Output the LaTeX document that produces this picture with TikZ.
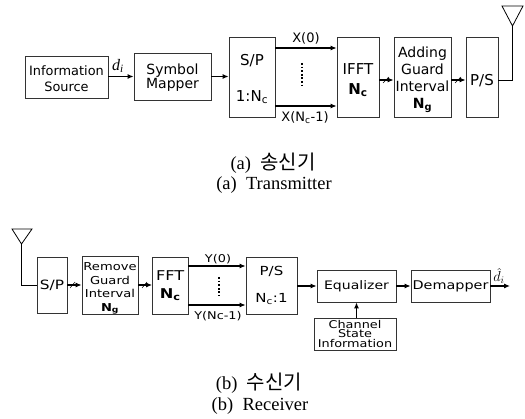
\documentclass[tikz,border=0pt]{standalone}
\usepackage{fontspec}
\setmainfont{DejaVu Sans}
\newfontfamily\widefont[FakeStretch=1.2]{DejaVu Sans}
\newfontfamily\capfont{Liberation Serif}
\newfontfamily\cjkfont{Noto Sans CJK KR}
\usetikzlibrary{arrows.meta}
\tikzset{
  x=1pt,y=-1pt,
  box/.style={draw=black!80,line width=0.8pt,align=center,inner sep=0pt,font=\fontsize{#1}{#1}\selectfont},
  wbox/.style={draw=black!80,line width=0.8pt,align=center,inner sep=0pt,font=\widefont\fontsize{#1}{#1}\selectfont},
  arr/.style={line width=1.1pt,-{Latex[length=6pt,width=5pt]}},
  wire/.style={line width=0.8pt},
  lab/.style={inner sep=0pt,font=\fontsize{13}{14}\selectfont},
  wlab/.style={inner sep=0pt,font=\widefont\fontsize{10.7}{12}\selectfont},
  capplain/.style={inner sep=0pt,font=\capfont\fontsize{18.5}{20}\selectfont},
  vdots/.style={line width=1.8pt,dash pattern=on 1.8pt off 1.8pt},
  slash/.style={line width=0.5pt}
}
\newcommand{\bN}[1]{\textbf{N}\textsubscript{\textbf{#1}}}
\begin{document}
\begin{tikzpicture}
\useasboundingbox (0,0) rectangle (525,419);
% transmitter
\node[box=12.9,minimum width=83pt,minimum height=42pt] (info) at (66.5,77) {\mbox{}\\[0.9pt]Information\\[3pt]Source};
\node[box=14,minimum width=77pt,minimum height=47pt] (map) at (172.5,76.5) {\mbox{}\\[-0.4pt]Symbol\\Mapper};
\node[box=15,minimum width=46pt,minimum height=80pt] (sptx) at (252,77) {\mbox{}\\[0.4pt]S/P\\[21pt]1:N\textsubscript{c}};
\node[box=15,minimum width=42pt,minimum height=80pt] (ifft) at (358,77) {\mbox{}\\[2.4pt]IFFT\\[5pt]\bN{c}};
\node[box=14,minimum width=57pt,minimum height=80pt] (add) at (422.5,77) {\mbox{}\\[2.6pt]Adding\\[3pt]Guard\\[3pt]Interval\\[3pt]\bN{g}};
\node[box=15,minimum width=32pt,minimum height=80pt] (pstx) at (482,77) {\mbox{}\\[2.4pt]P/S};
\coordinate (tx0) at (252,48);
\coordinate (tx1) at (252,106);
\coordinate (ta) at (512.5,26);
\coordinate (tl) at (502,6);
\coordinate (tr) at (523,6);
\draw[arr] (info.east |- map.center) -- (map.west);
\draw[arr] (map.east) -- (sptx.west |- map.center);
\draw[arr] (sptx.east |- tx0) -- (ifft.west |- tx0);
\draw[arr] (sptx.east |- tx1) -- (ifft.west |- tx1);
\draw[vdots] (302,63) -- (302,87);
\draw[arr] (ifft.east |- 0,80) -- (add.west |- 0,80);
\draw[arr] (add.east |- 0,80) -- (pstx.west |- 0,80);
\draw[slash] (383,83) -- (389,77);
\draw[slash] (455,83) -- (461,77);
\draw[wire] (pstx.east |- 0,80) -| (ta);
\draw[wire] (tl) -- (tr) -- (ta) -- cycle;
\node[inner sep=0pt,font=\fontsize{16}{16}\selectfont\capfont\itshape] (di) at (118,66) {d\textsubscript{i}};
\node[lab] (x0) at (306,38) {X(0)};
\node[lab] (x1) at (305,118) {X(N\textsubscript{c}-1)};
\node[capplain] (ca) at (273,163) {(a)\ \ {\cjkfont\fontsize{20}{20}\selectfont 송신기}};
\node[capplain] (cb) at (274,185) {(a)\ \ Transmitter};
% receiver
\node[wbox=12.8,minimum width=30pt,minimum height=56pt] (sprx) at (52,285) {S/P};
\node[wbox=10.9,minimum width=56pt,minimum height=57pt] (rem) at (110,285.5) {\mbox{}\\[3.4pt]Remove\\[2.5pt]Guard\\[2.5pt]Interval\\[2.5pt]\bN{g}};
\node[wbox=13.5,minimum width=35.5pt,minimum height=57pt] (fft) at (170.25,285.5) {FFT\\[4pt]\bN{c}};
\node[wbox=12.5,minimum width=51pt,minimum height=57pt] (psrx) at (271.5,285.5) {P/S\\[14pt]N\textsubscript{c}:1};
\node[wbox=11.7,minimum width=79pt,minimum height=32pt] (eq) at (356.5,286) {Equalizer};
\node[wbox=12,minimum width=79pt,minimum height=32pt] (dem) at (450.5,286) {Demapper};
\node[wbox=10.7,minimum width=82pt,minimum height=32pt] (csi) at (355,334) {Channel\\[-1pt]State\\[-1pt]Information};
\coordinate (ra) at (21.5,244);
\coordinate (rl) at (12,229);
\coordinate (rr) at (32,229);
\coordinate (rx0) at (200,266);
\coordinate (rx1) at (200,305);
\coordinate (dout) at (510,286);
\draw[wire] (ra) |- (sprx.west |- 0,285);
\draw[wire] (rl) -- (rr) -- (ra) -- cycle;
\draw[arr] (sprx.east) -- (rem.west |- sprx.east);
\draw[arr] (rem.east |- sprx.east) -- (fft.west |- sprx.east);
\draw[slash] (70,288) -- (75,282);
\draw[slash] (142,288) -- (147,282);
\draw[arr] (fft.east |- rx0) -- (psrx.west |- rx0);
\draw[arr] (fft.east |- rx1) -- (psrx.west |- rx1);
\draw[vdots] (219,277) -- (219,296);
\draw[arr] (psrx.east |- eq.west) -- (eq.west);
\draw[arr] (eq.east) -- (dem.west);
\draw[arr] (dem.east) -- (dout);
\draw[arr] (csi.north -| eq.south) -- (eq.south);
\node[wlab] (y0) at (218,259) {Y(0)};
\node[wlab] (y1) at (218,316) {Y(Nc-1)};
\node[inner sep=0pt,font=\fontsize{14}{14}\selectfont] (dh) at (499,276) {$\hat{d}_i$};
\node[capplain] (cc) at (259,383) {(b)\ \ {\cjkfont\fontsize{20}{20}\selectfont 수신기}};
\node[capplain] (cd) at (260,406) {(b)\ \ Receiver};
\end{tikzpicture}
\end{document}
